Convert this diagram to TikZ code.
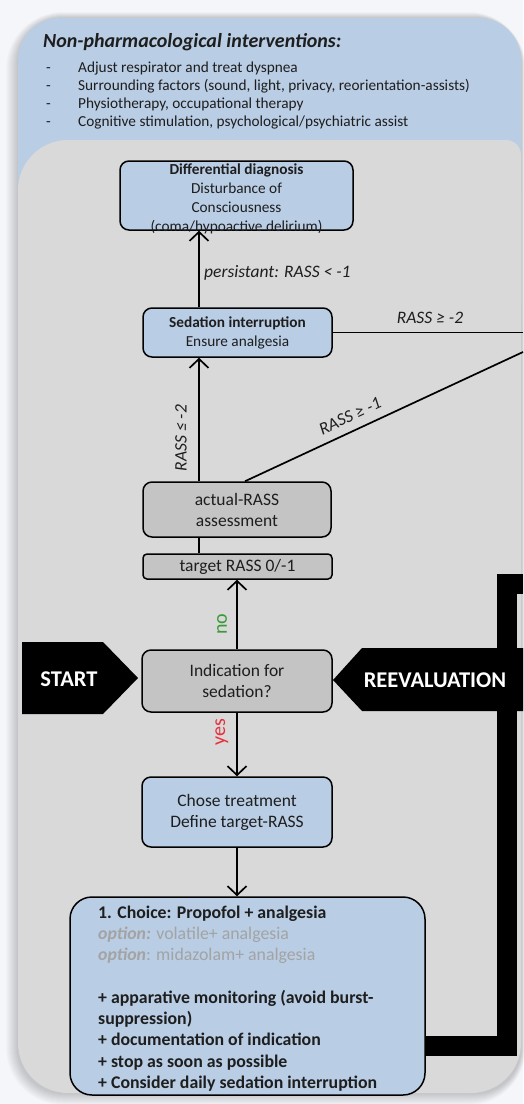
\documentclass[tikz,border=0pt]{standalone}
\usepackage{fontspec}
\setmainfont{Carlito}
\usetikzlibrary{arrows.meta,calc}
\definecolor{bgc}{HTML}{F4F6F9}
\definecolor{panelblue}{HTML}{B9CDE5}
\definecolor{panelgray}{HTML}{D9D9D9}
\definecolor{boxgray}{HTML}{C4C4C4}
\definecolor{optgray}{HTML}{A3A3A3}
\definecolor{yesred}{HTML}{E8303A}
\definecolor{nogreen}{HTML}{3A9A3A}
\definecolor{txt}{HTML}{1E1E1E}
\begin{document}
\begin{tikzpicture}[x=1pt,y=-1pt,
  flowbox/.style={draw=black, line width=1.5pt, rounded corners=9pt, inner sep=0pt, align=center, text=txt},
  bluebox/.style={flowbox, fill=panelblue},
  graybox/.style={flowbox, fill=boxgray},
  conn/.style={line width=1.7pt, draw=black},
  arr/.style={conn, -{Straight Barb[length=9pt,width=19pt,line width=1.7pt]}},
  lbl/.style={font=\fontsize{17.5}{21}\selectfont\itshape, text=txt, inner sep=0pt},
  bigfont/.style={font=\fontsize{17.5}{21}\selectfont},
  arrowtext/.style={font=\fontsize{22.5}{26}\selectfont\bfseries, text=white, inner sep=0pt},
  yn/.style={rotate=90, inner sep=0pt, font=\fontsize{20}{24}\selectfont},
  band/.style={line width=20pt, draw=black, line join=miter}
]
\useasboundingbox (0,0) rectangle (523,1104);
\fill[bgc] (0,0) rectangle (523,1104);
% soft shadow halo
\foreach \i in {1,...,12}{
  \pgfmathsetmacro\rr{45+\i}
  \fill[black,opacity=0.016,rounded corners=\rr pt] (18-\i,18-0.5*\i) rectangle (521+0.4*\i,1093+\i);
}
% panels
\fill[panelblue,rounded corners=42pt] (18,18) rectangle (521,700);
\fill[panelgray,rounded corners=50pt] (18,140) rectangle (521,1093);
\fill[panelgray,rounded corners=15pt] (400,140) rectangle (521,320);

% header and bullets
\node[anchor=base west, inner sep=0pt, text=txt, font=\fontsize{20}{24}\selectfont\bfseries\itshape] (hdr) at (43,47) {Non-pharmacological interventions:};
\node[anchor=base west, inner sep=0pt, text=txt, font=\fontsize{15.3}{18.2}\selectfont] (bul) at (46,72)
 {\begin{tabular}[t]{@{}p{32pt}@{}l@{}}
  - & Adjust respirator and treat dyspnea\\
  - & Surrounding factors (sound, light, privacy, reorientation-assists)\\
  - & Physiotherapy, occupational therapy\\
  - & Cognitive stimulation, psychological/psychiatric assist
  \end{tabular}};

% axes
\coordinate (axA) at (199,0);
\coordinate (axB) at (237,0);

% boxes
\node[bluebox, minimum width=233pt, minimum height=69pt] (diff) at (236.5,195.5) {};
\node[anchor=base, inner sep=0pt, text=txt, font=\fontsize{15.3}{19}\selectfont] (difftxt) at (236.5,174)
 {\begin{tabular}[t]{@{}c@{}}\textbf{Differential diagnosis}\\Disturbance of\\Consciousness\\(coma/hypoactive delirium)\end{tabular}};

\node[bluebox, minimum width=189pt, minimum height=49pt, font=\fontsize{15.3}{19}\selectfont] (sed) at (237.5,332.5)
 {\textbf{Sedation interruption}\\Ensure analgesia};

\node[graybox, minimum width=188pt, minimum height=55pt, bigfont] (act) at (237,509.5)
 {actual-RASS\\assessment};

\node[graybox, rounded corners=4pt, minimum width=189pt, minimum height=25pt, bigfont] (tgt) at (237.5,566.5)
 {target RASS 0/-1};

\node[graybox, minimum width=190pt, minimum height=62pt, bigfont] (ind) at (237,681)
 {Indication for\\sedation?};

\node[bluebox, minimum width=190pt, minimum height=70pt, bigfont] (chose) at (237,812)
 {Chose treatment\\Define target-RASS};

\node[bluebox, rounded corners=22pt, minimum width=355pt, minimum height=198pt] (big) at (247.5,996) {};
\node[anchor=base west, inner sep=0pt, text=txt, font=\fontsize{17.8}{21.3}\selectfont] (bigtxt) at (98,918)
 {\begin{tabular}[t]{@{}l@{}}
  \textbf{1. Choice: Propofol + analgesia}\\
  {\color{optgray}\textbf{\textit{option:}} volatile+ analgesia}\\
  {\color{optgray}\textbf{\textit{option}}: midazolam+ analgesia}\\
  \mbox{}\\
  \textbf{+ apparative monitoring (avoid burst-}\\
  \textbf{suppression)}\\
  \textbf{+ documentation of indication}\\
  \textbf{+ stop as soon as possible}\\
  \textbf{+ Consider daily sedation interruption}
  \end{tabular}};

% feedback band
\coordinate (bandY) at (0,1046);
\coordinate (bandX) at (507,0);
\coordinate (reevalOut) at (523,584);
\draw[band] (big.east |- bandY) -- (bandX |- bandY) -- (bandX |- reevalOut) -- (reevalOut);

% START and REEVALUATION arrows
\fill[black] (22,642) -- (103,642) -- (138,678) -- (103,714) -- (22,714) -- cycle;
\node[arrowtext] (start) at (69,679) {START};
\fill[black] (333,680) -- (362,648) -- (523,648) -- (523,711) -- (362,711) -- cycle;
\node[arrowtext] (reeval) at (435,680) {REEVALUATION};

% connectors
\coordinate (edgeA) at (523,332.5);
\coordinate (edgeB) at (523,352);
\draw[arr] (sed.north -| axA) -- (diff.south -| axA);
\node[lbl, anchor=west] (lpers) at (204,273) {persistant: RASS < -1};
\draw[conn] (sed.east) -- (edgeA);
\node[lbl] (lge2) at (430,318) {RASS ≥ -2};
\draw[conn] ($(act.north)+(8,0)$) -- (edgeB);
\node[lbl, rotate=25] (lge1) at (350,416) {RASS ≥ -1};
\draw[arr] (act.north -| axA) -- (sed.south -| axA);
\node[lbl, rotate=90] (lle2) at (181,438) {RASS ≤ -2};
\draw[conn] (act.south -| axA) -- (tgt.north -| axA);
\draw[arr] (ind.north -| axB) -- (tgt.south -| axB);
\node[yn, text=nogreen] (lno) at (222,624) {no};
\draw[arr] (ind.south -| axB) -- (chose.north -| axB);
\node[yn, text=yesred] (lyes) at (222,732) {yes};
\draw[arr] (chose.south -| axB) -- (big.north -| axB);
\end{tikzpicture}
\end{document}
